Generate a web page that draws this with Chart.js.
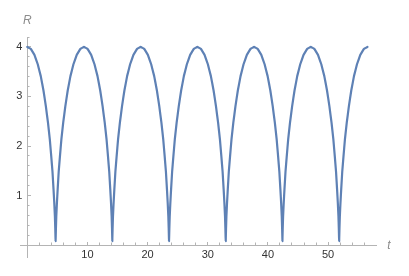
<!DOCTYPE html>
<html>
<head>
<meta charset="utf-8">
<script src="https://cdn.jsdelivr.net/npm/chart.js@4"></script>
<style>
  html, body { margin: 0; padding: 0; background: #ffffff; }
  #wrap { width: 409px; height: 276px; }
</style>
</head>
<body>
<div id="wrap"><canvas id="c" width="409" height="276"></canvas></div>
<script>
// ---- data ----
const tValues = [
  0, 0.6, 1.2, 1.75, 2.25, 2.7, 3.1, 3.45, 3.75, 4.0, 4.2, 4.37, 4.5, 4.6, 4.66, 4.70, 4.71,
  4.73, 4.77, 4.83, 4.93, 5.06, 5.23, 5.43, 5.68, 5.98, 6.33, 6.73, 7.18, 7.68, 8.23, 8.83, 9.43,
  10.03, 10.63, 11.18, 11.68, 12.13, 12.53, 12.88, 13.18, 13.43, 13.63, 13.80, 13.93, 14.03, 14.09, 14.13, 14.14,
  14.15, 14.19, 14.25, 14.35, 14.48, 14.65, 14.85, 15.10, 15.40, 15.75, 16.15, 16.60, 17.10, 17.65, 18.25, 18.85,
  19.45, 20.05, 20.60, 21.10, 21.55, 21.95, 22.30, 22.60, 22.85, 23.05, 23.22, 23.35, 23.45, 23.51, 23.55, 23.56,
  23.58, 23.62, 23.68, 23.78, 23.91, 24.08, 24.28, 24.53, 24.83, 25.18, 25.58, 26.03, 26.53, 27.08, 27.68, 28.27,
  28.87, 29.47, 30.02, 30.52, 30.97, 31.37, 31.72, 32.02, 32.27, 32.47, 32.64, 32.77, 32.87, 32.93, 32.97, 32.99,
  33.00, 33.04, 33.10, 33.20, 33.33, 33.50, 33.70, 33.95, 34.25, 34.60, 35.00, 35.45, 35.95, 36.50, 37.10, 37.70,
  38.30, 38.90, 39.45, 39.95, 40.40, 40.80, 41.15, 41.45, 41.70, 41.90, 42.07, 42.20, 42.30, 42.36, 42.40, 42.41,
  42.42, 42.46, 42.52, 42.62, 42.75, 42.92, 43.12, 43.37, 43.67, 44.02, 44.42, 44.87, 45.37, 45.92, 46.52, 47.12,
  47.72, 48.32, 48.87, 49.37, 49.82, 50.22, 50.57, 50.87, 51.12, 51.32, 51.49, 51.62, 51.72, 51.78, 51.82, 51.84,
  51.85, 51.89, 51.95, 52.05, 52.18, 52.35, 52.55, 52.80, 53.10, 53.45, 53.85, 54.30, 54.80, 55.35, 55.95, 56.55
];
const rValues = [
  4.00, 3.96, 3.84, 3.65, 3.41, 3.12, 2.80, 2.47, 2.14, 1.78, 1.48, 1.13, 0.84, 0.58, 0.34, 0.15, 0.08,
  0.15, 0.34, 0.58, 0.84, 1.13, 1.48, 1.78, 2.14, 2.47, 2.80, 3.12, 3.41, 3.65, 3.84, 3.96, 4.00,
  3.96, 3.84, 3.65, 3.41, 3.12, 2.80, 2.47, 2.14, 1.78, 1.48, 1.13, 0.84, 0.58, 0.34, 0.15, 0.08,
  0.15, 0.34, 0.58, 0.84, 1.13, 1.48, 1.78, 2.14, 2.47, 2.80, 3.12, 3.41, 3.65, 3.84, 3.96, 4.00,
  3.96, 3.84, 3.65, 3.41, 3.12, 2.80, 2.47, 2.14, 1.78, 1.48, 1.13, 0.84, 0.58, 0.34, 0.15, 0.08,
  0.15, 0.34, 0.58, 0.84, 1.13, 1.48, 1.78, 2.14, 2.47, 2.80, 3.12, 3.41, 3.65, 3.84, 3.96, 4.00,
  3.96, 3.84, 3.65, 3.41, 3.12, 2.80, 2.47, 2.14, 1.78, 1.48, 1.13, 0.84, 0.58, 0.34, 0.15, 0.08,
  0.15, 0.34, 0.58, 0.84, 1.13, 1.48, 1.78, 2.14, 2.47, 2.80, 3.12, 3.41, 3.65, 3.84, 3.96, 4.00,
  3.96, 3.84, 3.65, 3.41, 3.12, 2.80, 2.47, 2.14, 1.78, 1.48, 1.13, 0.84, 0.58, 0.34, 0.15, 0.08,
  0.15, 0.34, 0.58, 0.84, 1.13, 1.48, 1.78, 2.14, 2.47, 2.80, 3.12, 3.41, 3.65, 3.84, 3.96, 4.00,
  3.96, 3.84, 3.65, 3.41, 3.12, 2.80, 2.47, 2.14, 1.78, 1.48, 1.13, 0.84, 0.58, 0.34, 0.15, 0.08,
  0.15, 0.34, 0.58, 0.84, 1.13, 1.48, 1.78, 2.14, 2.47, 2.80, 3.12, 3.41, 3.65, 3.84, 3.96, 4.00
];
const xMajorTicks = [10, 20, 30, 40, 50];
const xTickLabels = ['10', '20', '30', '40', '50'];
const xMinorTicks = [2, 4, 6, 8, 12, 14, 16, 18, 22, 24, 26, 28, 32, 34, 36, 38, 42, 44, 46, 48, 52, 54, 56];
const yMajorTicks = [1, 2, 3, 4];
const yTickLabels = ['1', '2', '3', '4'];
const yMinorTicks = [0.2, 0.4, 0.6, 0.8, 1.2, 1.4, 1.6, 1.8, 2.2, 2.4, 2.6, 2.8, 3.2, 3.4, 3.6, 3.8, 4.2];
const xTitle = 't';
const yTitle = 'R';

// ---- styling ----
const xMin = -1.2, xMax = 57.96, yMin = -0.24, yMax = 4.2;
const axisColor = '#b4b4b4';
const labelColor = '#333333';
const lineColor = '#5e81b5';
const tickFont = { family: '"Liberation Sans", Arial, sans-serif', size: 11 };

const points = tValues.map((t, i) => ({ x: t, y: rValues[i] }));

const axisTitles = {
  id: 'axisTitles',
  afterDraw(chart) {
    const { ctx, scales, chartArea } = chart;
    ctx.save();
    ctx.font = 'italic 12px "Liberation Sans", Arial, sans-serif';
    ctx.fillStyle = '#8c8c8c';
    ctx.textAlign = 'center';
    ctx.textBaseline = 'alphabetic';
    ctx.fillText(yTitle, scales.x.getPixelForValue(0), chartArea.top - 13);
    ctx.fillText(xTitle, chartArea.right + 13, scales.y.getPixelForValue(0) + 4);
    ctx.restore();
  }
};

new Chart(document.getElementById('c'), {
  type: 'line',
  data: {
    datasets: [{
      data: points,
      borderColor: lineColor,
      borderWidth: 2.2,
      borderJoinStyle: 'round',
      borderCapStyle: 'round',
      pointRadius: 0,
      tension: 0.01,
      capBezierPoints: false,
      fill: false,
      clip: false
    }]
  },
  options: {
    responsive: false,
    animation: false,
    devicePixelRatio: 1,
    layout: { padding: { left: 20, right: 33, top: 37, bottom: 19 } },
    plugins: { legend: { display: false }, tooltip: { enabled: false }, title: { display: false } },
    scales: {
      x: {
        type: 'linear', axis: 'x', position: { y: 0 }, min: xMin, max: xMax,
        afterBuildTicks: s => { s.ticks = xMajorTicks.map(v => ({ value: v })); },
        grid: { display: true, drawOnChartArea: false, drawTicks: true, tickLength: -4, color: axisColor, tickColor: axisColor, lineWidth: 1 },
        border: { display: true, color: axisColor, width: 1 },
        ticks: { autoSkip: false, maxRotation: 0, padding: 7, color: labelColor, font: tickFont,
                 callback: (v, i) => xTickLabels[i] }
      },
      xm: {
        type: 'linear', axis: 'x', position: { y: 0 }, min: xMin, max: xMax,
        afterBuildTicks: s => { s.ticks = xMinorTicks.map(v => ({ value: v })); },
        grid: { display: true, drawOnChartArea: false, drawTicks: true, tickLength: -2.5, color: axisColor, tickColor: axisColor, lineWidth: 1 },
        border: { display: false },
        ticks: { display: false, autoSkip: false }
      },
      y: {
        type: 'linear', axis: 'y', position: { x: 0 }, min: yMin, max: yMax,
        afterBuildTicks: s => { s.ticks = yMajorTicks.map(v => ({ value: v })); },
        grid: { display: true, drawOnChartArea: false, drawTicks: true, tickLength: -4, color: axisColor, tickColor: axisColor, lineWidth: 1 },
        border: { display: true, color: axisColor, width: 1 },
        ticks: { display: false, autoSkip: false }
      },
      ym: {
        type: 'linear', axis: 'y', position: { x: 0 }, min: yMin, max: yMax,
        afterBuildTicks: s => { s.ticks = yMinorTicks.map(v => ({ value: v })); },
        grid: { display: true, drawOnChartArea: false, drawTicks: true, tickLength: -2.5, color: axisColor, tickColor: axisColor, lineWidth: 1 },
        border: { display: false },
        ticks: { display: false, autoSkip: false }
      },
      yl: {
        type: 'linear', axis: 'y', position: { x: -0.8 }, min: yMin, max: yMax,
        afterBuildTicks: s => { s.ticks = yMajorTicks.map(v => ({ value: v })); },
        grid: { display: false },
        border: { display: false },
        ticks: { autoSkip: false, color: labelColor, font: tickFont, callback: (v, i) => yTickLabels[i] }
      }
    }
  },
  plugins: [axisTitles]
});
</script>
</body>
</html>
